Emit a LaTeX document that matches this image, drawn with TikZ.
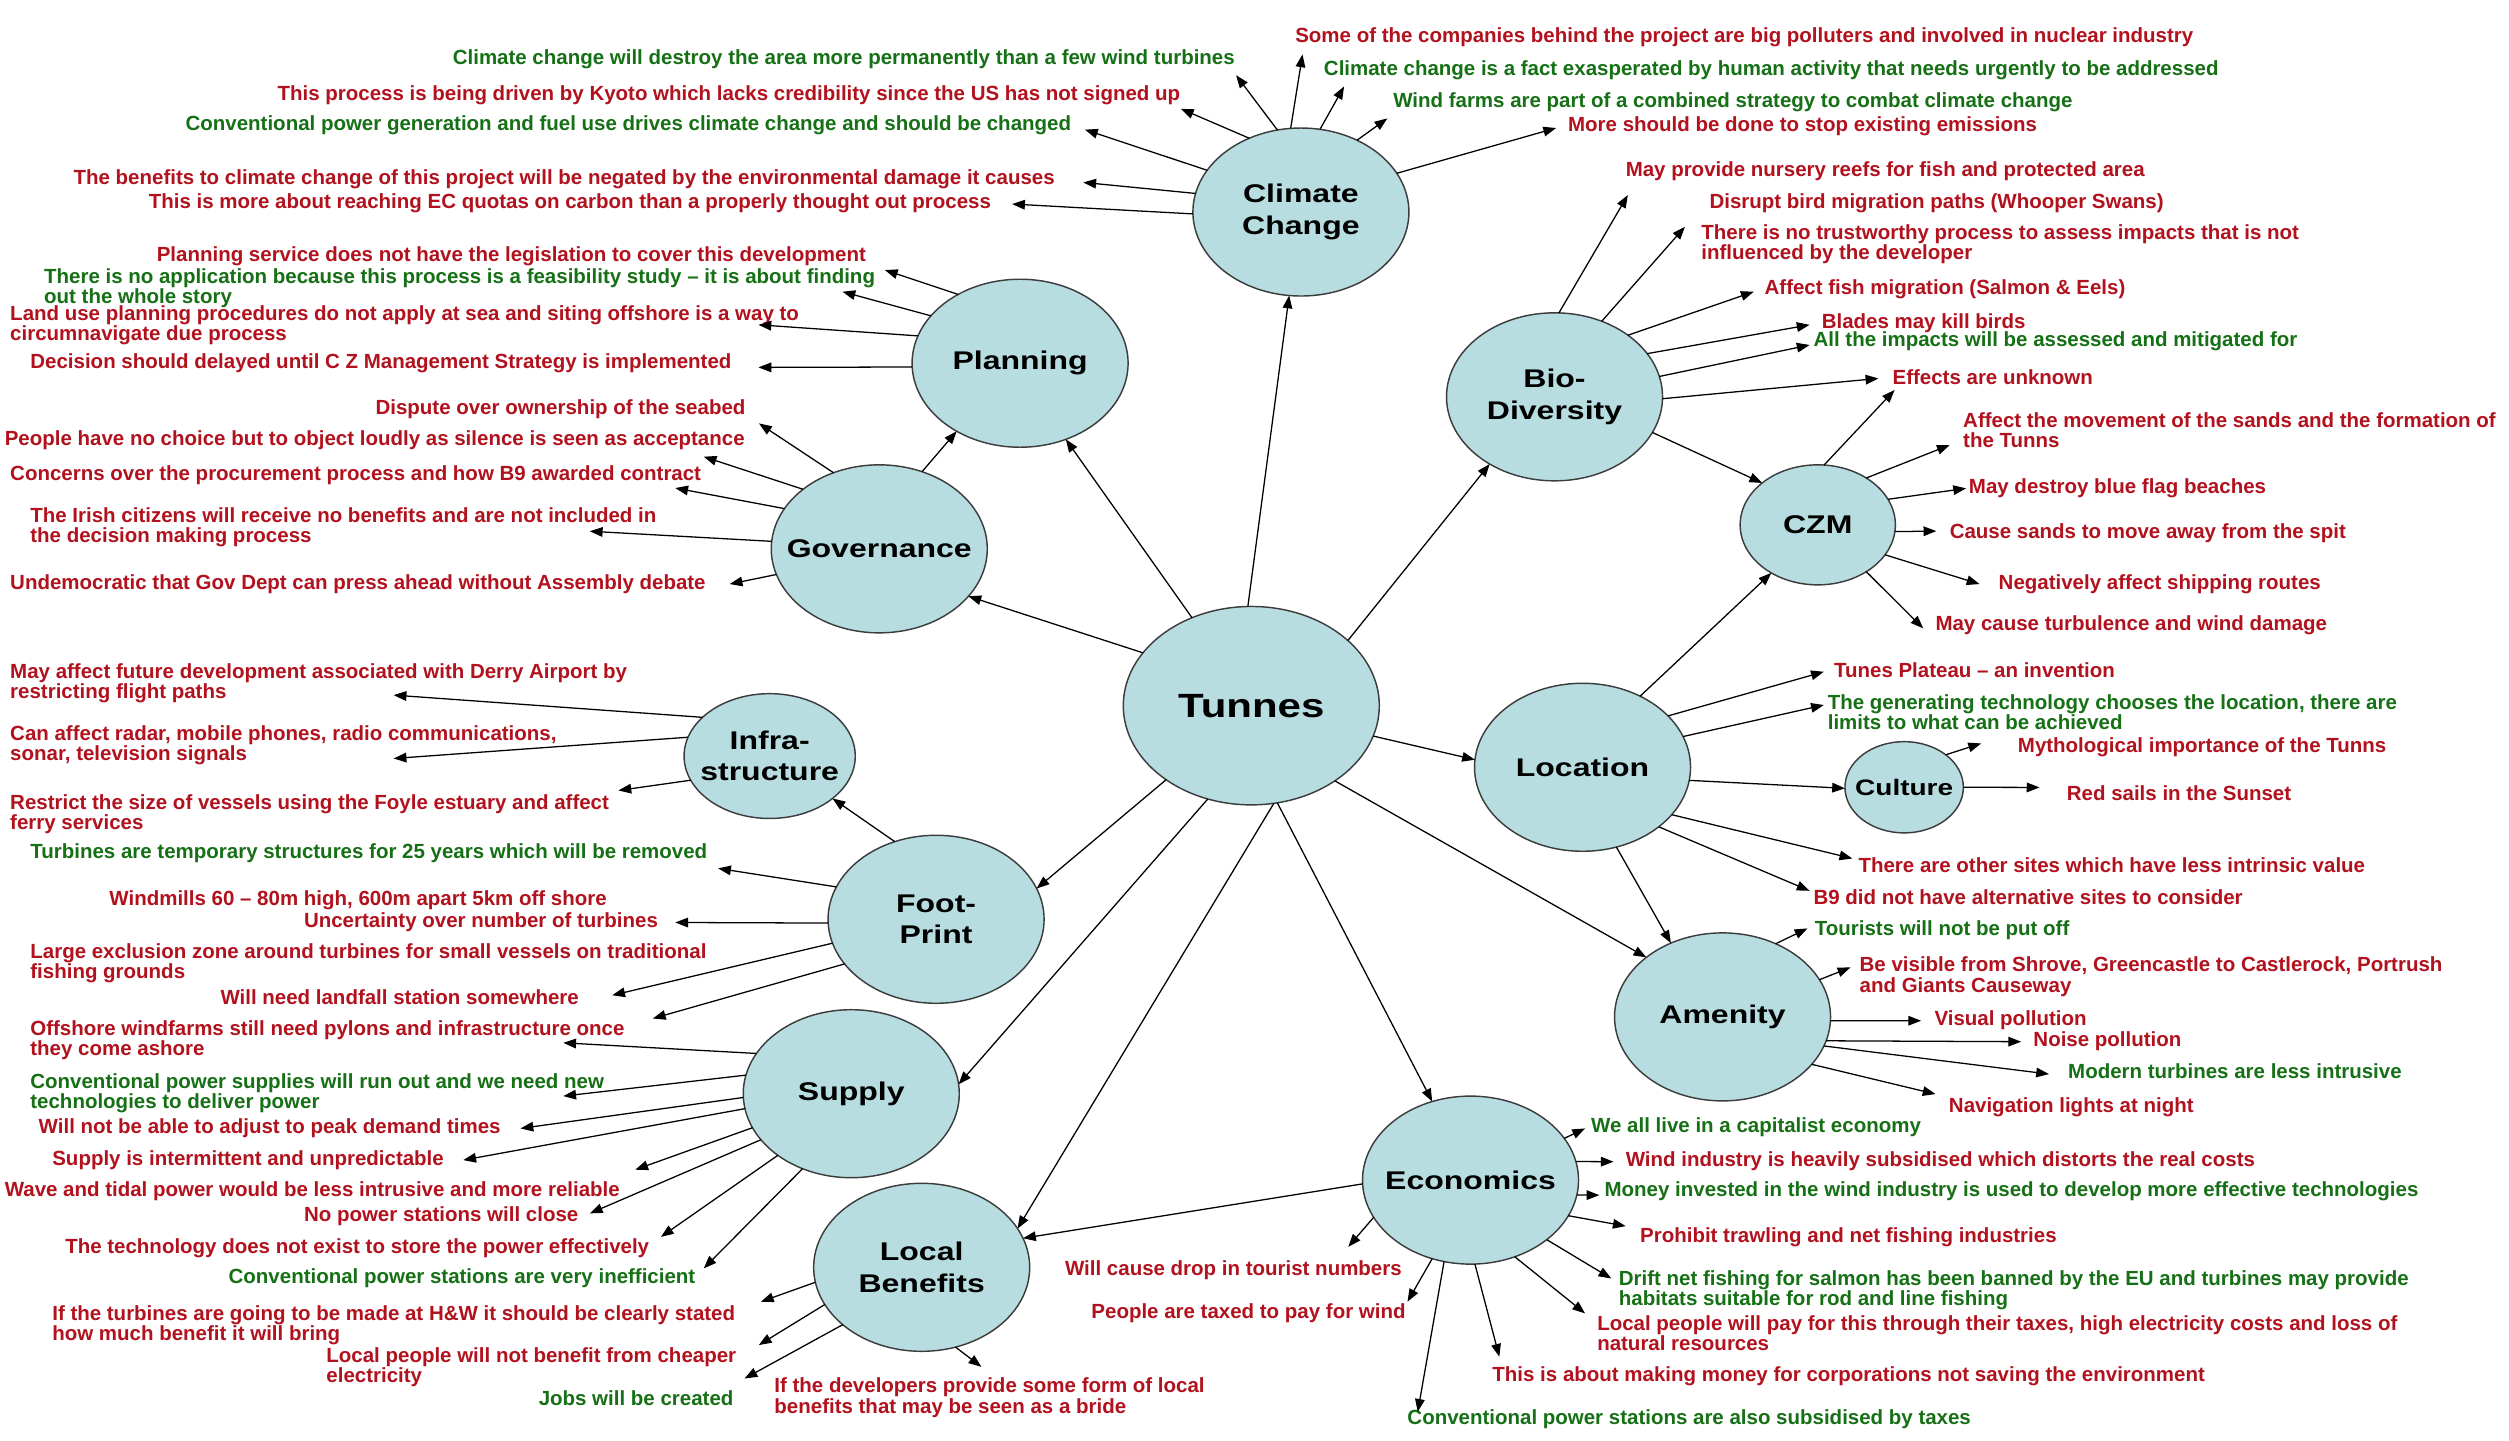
\documentclass[tikz,border=0pt]{standalone}
\usepackage{fontspec}
\setmainfont{Liberation Sans}
\newfontfamily\lblfont{Liberation Sans}[FakeStretch=1.25]
\usetikzlibrary{shapes.geometric,arrows.meta}
\definecolor{tred}{RGB}{178,18,30}
\definecolor{tgreen}{RGB}{22,112,22}
\definecolor{cfill}{RGB}{183,221,225}
\definecolor{cline}{RGB}{60,60,60}
\tikzset{
  hub/.style={ellipse, draw=cline, line width=0.9pt, fill=cfill, inner sep=0pt, outer sep=0pt},
  bighub/.style={hub, minimum width=135pt, minimum height=105pt},
  lbl/.style={inner sep=0pt, align=center, font=\lblfont\bfseries\fontsize{16}{19.5}\selectfont},
  rtxt/.style={inner sep=0pt, outer sep=0pt, align=left, text=tred, font=\bfseries\fontsize{12.8}{12.6}\selectfont},
  gtxt/.style={rtxt, text=tgreen},
  arr/.style={-{Triangle[length=8pt,width=6pt]}, line width=0.8pt, black},
}
\begin{document}
\begin{tikzpicture}[x=1pt,y=-1pt]
\useasboundingbox (0,0) rectangle (1568,900);
\fill[white] (0,0) rectangle (1568,900);

% ---------------- hubs ----------------
\node[hub, minimum width=160pt, minimum height=124pt] (TU) at (782,441) {};
\node[bighub] (CC) at (813,132.5) {};
\node[bighub] (PL) at (637.5,227) {};
\node[bighub] (GV) at (549.5,343) {};
\node[hub, minimum width=107pt, minimum height=78pt] (INF) at (481,472.5) {};
\node[bighub] (FP) at (585,574.5) {};
\node[bighub] (SU) at (532,683.5) {};
\node[bighub] (LB) at (576,792) {};
\node[bighub] (EC) at (919,737.5) {};
\node[bighub] (AM) at (1076.5,635.5) {};
\node[bighub] (LO) at (989,479.5) {};
\node[hub, minimum width=74pt, minimum height=57pt] (CU) at (1190,492) {};
\node[hub, minimum width=97pt, minimum height=75pt] (CZ) at (1136,328) {};
\node[bighub] (BD) at (971.5,248) {};

\node[lbl, font=\lblfont\bfseries\fontsize{21}{24}\selectfont] (TUl) at (TU) {Tunnes};
\node[lbl] (CCl) at (CC) {Climate\\Change};
\node[lbl] (PLl) at (PL) {Planning};
\node[lbl] (GVl) at (GV) {Governance};
\node[lbl] (INFl) at (INF) {Infra-\\structure};
\node[lbl] (FPl) at (FP) {Foot-\\Print};
\node[lbl] (SUl) at (SU) {Supply};
\node[lbl] (LBl) at (LB) {Local\\Benefits};
\node[lbl] (ECl) at (EC) {Economics};
\node[lbl] (AMl) at (AM) {Amenity};
\node[lbl] (LOl) at (LO) {Location};
\node[lbl, font=\lblfont\bfseries\fontsize{14}{17}\selectfont] (CUl) at (CU) {Culture};
\node[lbl] (CZl) at (CZ) {CZM};
\node[lbl] (BDl) at (BD) {Bio-\\Diversity};

% ---------------- hub to hub ----------------
\draw[arr] (TU.92) -- (CC.262);
\draw[arr] (TU.124) -- (PL.301);
\draw[arr] (TU.154) -- (GV.332);
\draw[arr] (TU.221) -- (FP.17);
\draw[arr] (TU.245) -- (SU.5);
\draw[arr] (TU.283) -- (LB.22);
\draw[arr] (TU.285) -- (EC.116);
\draw[arr] (TU.318) -- (AM.142);
\draw[arr] (TU.346) -- (LO.176);
\draw[arr] (TU.34) -- (BD.226);
\draw[arr] (GV.61) -- (PL.227);
\draw[arr] (FP.118) -- (INF.326);
\draw[arr] (EC.182) -- (LB.16);
\draw[arr] (LO.293) -- (AM.125);
\draw[arr] (LO.353) -- (CU.181);
\draw[arr] (LO.51) -- (CZ.226);
\draw[arr] (BD.340) -- (CZ.143);

% ---------------- Climate Change ----------------
\node[gtxt, anchor=west] (c1) at (283,37) {Climate change will destroy the area more permanently than a few wind turbines};
\node[rtxt, anchor=west] (c2) at (173.5,59.4) {This process is being driven by Kyoto which lacks credibility since the US has not signed up};
\node[gtxt, anchor=west] (c3) at (116,78) {Conventional power generation and fuel use drives climate change and should be changed};
\node[rtxt, anchor=west] (c4) at (46,112) {The benefits to climate change of this project will be negated by the environmental damage it causes};
\node[rtxt, anchor=west] (c5) at (93,127) {This is more about reaching EC quotas on carbon than a properly thought out process};
\node[rtxt, anchor=west] (c6) at (809.5,23.3) {Some of the companies behind the project are big polluters and involved in nuclear industry};
\node[gtxt, anchor=west] (c7) at (827.4,43.7) {Climate change is a fact exasperated by human activity that needs urgently to be addressed};
\node[gtxt, anchor=west] (c8) at (870.7,64) {Wind farms are part of a combined strategy to combat climate change};
\node[rtxt, anchor=west] (c9) at (980,79) {More should be done to stop existing emissions};
\coordinate (hc1) at (772.5,47);
\coordinate (hc2) at (738,68);
\coordinate (hc3) at (678,81);
\coordinate (hc4) at (677,114);
\coordinate (hc5) at (632.5,127.5);
\coordinate (hc6) at (814,34);
\coordinate (hc7) at (840,54);
\coordinate (hc8) at (867,74);
\coordinate (hc9) at (972.5,80);
\draw[arr] (CC.106) -- (hc1);
\draw[arr] (CC.125) -- (hc2);
\draw[arr] (CC.156) -- (hc3);
\draw[arr] (CC.170) -- (hc4);
\draw[arr] (CC.181) -- (hc5);
\draw[arr] (CC.97) -- (hc6);
\draw[arr] (CC.77) -- (hc7);
\draw[arr] (CC.52) -- (hc8);
\draw[arr] (CC.22) -- (hc9);

% ---------------- Planning ----------------
\node[rtxt, anchor=west] (p1) at (98,160) {Planning service does not have the legislation to cover this development};
\node[gtxt, anchor=north west] (p2) at (27.6,168) {There is no application because this process is a feasibility study – it is about finding\\out the whole story};
\node[rtxt, anchor=north west] (p3) at (6.4,191) {Land use planning procedures do not apply at sea and siting offshore is a way to\\circumnavigate due process};
\node[rtxt, anchor=west] (p4) at (19,227) {Decision should delayed until C Z Management Strategy is implemented};
\coordinate (hp1) at (553,168.75);
\coordinate (hp2) at (526.5,182.3);
\coordinate (hp3) at (474,203);
\coordinate (hp4) at (474,229.6);
\draw[arr] (PL.132) -- (hp1);
\draw[arr] (PL.152) -- (hp2);
\draw[arr] (PL.165) -- (hp3);
\draw[arr] (PL.182) -- (hp4);

% ---------------- Governance ----------------
\node[rtxt, anchor=west] (g1) at (234.7,256) {Dispute over ownership of the seabed};
\node[rtxt, anchor=west] (g2) at (3,275.4) {People have no choice but to object loudly as silence is seen as acceptance};
\node[rtxt, anchor=west] (g3) at (6.4,297) {Concerns over the procurement process and how B9 awarded contract};
\node[rtxt, anchor=north west] (g4) at (19,317) {The Irish citizens will receive no benefits and are not included in\\the decision making process};
\node[rtxt, anchor=west] (g5) at (6.4,365) {Undemocratic that Gov Dept can press ahead without Assembly debate};
\coordinate (hg1) at (474.3,264.6);
\coordinate (hg2) at (439.8,285.4);
\coordinate (hg3) at (422,305);
\coordinate (hg4) at (368.6,332);
\coordinate (hg5) at (456,365);
\draw[arr] (GV.121) -- (hg1);
\draw[arr] (GV.142) -- (hg2);
\draw[arr] (GV.157) -- (hg3);
\draw[arr] (GV.176) -- (hg4);
\draw[arr] (GV.194) -- (hg5);

% ---------------- Infrastructure ----------------
\node[rtxt, anchor=north west] (i1) at (6.4,414.8) {May affect future development associated with Derry Airport by\\restricting flight paths};
\node[rtxt, anchor=north west] (i2) at (6.4,453.3) {Can affect radar, mobile phones, radio communications,\\sonar, television signals};
\node[rtxt, anchor=north west] (i3) at (6.4,496.5) {Restrict the size of vessels using the Foyle estuary and affect\\ferry services};
\coordinate (hi1) at (246,434.4);
\coordinate (hi2) at (246,474);
\coordinate (hi3) at (386.5,494);
\draw[arr] (INF.150) -- (hi1);
\draw[arr] (INF.167) -- (hi2);
\draw[arr] (INF.197) -- (hi3);

% ---------------- Foot-Print ----------------
\node[gtxt, anchor=west] (f1) at (19,533.3) {Turbines are temporary structures for 25 years which will be removed};
\node[rtxt, anchor=west] (f2) at (68.4,562.5) {Windmills 60 – 80m high, 600m apart 5km off shore};
\node[rtxt, anchor=west] (f3) at (190,576.5) {Uncertainty over number of turbines};
\node[rtxt, anchor=north west] (f4) at (19,589.8) {Large exclusion zone around turbines for small vessels on traditional\\fishing grounds};
\node[rtxt, anchor=west] (f5) at (137.8,623.3) {Will need landfall station somewhere};
\coordinate (hf1) at (448.8,542.7);
\coordinate (hf3) at (422,576.5);
\coordinate (hf5) at (382.6,622);
\coordinate (hf6) at (408,636.5);
\draw[arr] (FP.162) -- (hf1);
\draw[arr] (FP.182) -- (hf3);
\draw[arr] (FP.193) -- (hf5);
\draw[arr] (FP.206) -- (hf6);

% ---------------- Supply ----------------
\node[rtxt, anchor=north west] (s1) at (19,637.7) {Offshore windfarms still need pylons and infrastructure once\\they come ashore};
\node[gtxt, anchor=north west] (s2) at (19,671) {Conventional power supplies will run out and we need new\\technologies to deliver power};
\node[rtxt, anchor=west] (s3) at (24.2,705.2) {Will not be able to adjust to peak demand times};
\node[rtxt, anchor=west] (s4) at (32.7,725) {Supply is intermittent and unpredictable};
\node[rtxt, anchor=west] (s5) at (3,744.2) {Wave and tidal power would be less intrusive and more reliable};
\node[rtxt, anchor=west] (s6) at (190,759.8) {No power stations will close};
\node[rtxt, anchor=west] (s7) at (40.8,779.8) {The technology does not exist to store the power effectively};
\node[gtxt, anchor=west] (s8) at (142.9,799) {Conventional power stations are very inefficient};
\coordinate (hs1) at (352,651.7);
\coordinate (hs2) at (352,685);
\coordinate (hs3) at (325.3,705.2);
\coordinate (hs4) at (289.5,725);
\coordinate (hs5) at (397,731);
\coordinate (hs6) at (368.6,758.3);
\coordinate (hs7) at (413,773);
\coordinate (hs8) at (439.8,792.7);
\draw[arr] (SU.157) -- (hs1);
\draw[arr] (SU.170) -- (hs2);
\draw[arr] (SU.182) -- (hs3);
\draw[arr] (SU.188) -- (hs4);
\draw[arr] (SU.199) -- (hs5);
\draw[arr] (SU.207) -- (hs6);
\draw[arr] (SU.220) -- (hs7);
\draw[arr] (SU.237) -- (hs8);

% ---------------- Local Benefits ----------------
\node[rtxt, anchor=north west] (l1) at (32.7,815.8) {If the turbines are going to be made at H\&W it should be clearly stated\\how much benefit it will bring};
\node[rtxt, anchor=north west] (l2) at (204,841.9) {Local people will not benefit from cheaper\\electricity};
\node[gtxt, anchor=west] (l3) at (336.7,874) {Jobs will be created};
\node[rtxt, anchor=north west] (l4) at (484,861.25) {If the developers provide some form of local\\benefits that may be seen as a bride};
\coordinate (hl1) at (475.5,813.5);
\coordinate (hl2) at (474.2,840.6);
\coordinate (hl3) at (465.3,861.5);
\coordinate (hl4) at (613.3,854.2);
\draw[arr] (LB.188) -- (hl1);
\draw[arr] (LB.201) -- (hl2);
\draw[arr] (LB.216) -- (hl3);
\draw[arr] (LB.293) -- (hl4);

% ---------------- Economics ----------------
\node[gtxt, anchor=west] (e1) at (994.4,704.2) {We all live in a capitalist economy};
\node[rtxt, anchor=west] (e2) at (1016,725.4) {Wind industry is heavily subsidised which distorts the real costs};
\node[gtxt, anchor=west] (e3) at (1002.8,744.2) {Money invested in the wind industry is used to develop more effective technologies};
\node[rtxt, anchor=west] (e4) at (1025,773) {Prohibit trawling and net fishing industries};
\node[gtxt, anchor=north west] (e5) at (1011.7,794) {Drift net fishing for salmon has been banned by the EU and turbines may provide\\habitats suitable for rod and line fishing};
\node[rtxt, anchor=north west] (e6) at (998.2,822) {Local people will pay for this through their taxes, high electricity costs and loss of\\natural resources};
\node[rtxt, anchor=west] (e7) at (932.7,860) {This is about making money for corporations not saving the environment};
\node[gtxt, anchor=west] (e8) at (879.6,887) {Conventional power stations are also subsidised by taxes};
\node[rtxt, anchor=west] (e9) at (665.6,793.75) {Will cause drop in tourist numbers};
\node[rtxt, anchor=west] (e10) at (682.1,820.4) {People are taxed to pay for wind};
\coordinate (he1) at (990.6,705.2);
\coordinate (he2) at (1008.4,726);
\coordinate (he3) at (999.5,746.9);
\coordinate (he4) at (1016,766.25);
\coordinate (he5) at (1007,799);
\coordinate (he6) at (990.6,820.8);
\coordinate (he7) at (937,847.9);
\coordinate (he8) at (886,882.3);
\coordinate (he9) at (842.6,779.2);
\coordinate (he10) at (879.6,813.5);
\draw[arr] (EC.24) -- (he1);
\draw[arr] (EC.10) -- (he2);
\draw[arr] (EC.352) -- (he3);
\draw[arr] (EC.340) -- (he4);
\draw[arr] (EC.322) -- (he5);
\draw[arr] (EC.300) -- (he6);
\draw[arr] (EC.273) -- (he7);
\draw[arr] (EC.252) -- (he8);
\draw[arr] (EC.201) -- (he9);
\draw[arr] (EC.244) -- (he10);

% ---------------- Amenity ----------------
\node[gtxt, anchor=west] (m1) at (1134.2,581.25) {Tourists will not be put off};
\node[rtxt, anchor=north west] (m2) at (1162.2,598.1) {Be visible from Shrove, Greencastle to Castlerock, Portrush\\and Giants Causeway};
\node[rtxt, anchor=west] (m3) at (1209,637.5) {Visual pollution};
\node[rtxt, anchor=west] (m4) at (1270.8,650.4) {Noise pollution};
\node[gtxt, anchor=west] (m5) at (1292.5,669.2) {Modern turbines are less intrusive};
\node[rtxt, anchor=west] (m6) at (1218,691.7) {Navigation lights at night};
\coordinate (hm1) at (1129.6,580.2);
\coordinate (hm2) at (1156.4,604.6);
\coordinate (hm3) at (1200.6,637.9);
\coordinate (hm4) at (1263.1,651);
\coordinate (hm5) at (1280.5,671.25);
\coordinate (hm6) at (1209.6,683.75);
\draw[arr] (AM.54) -- (hm1);
\draw[arr] (AM.21) -- (hm2);
\draw[arr] (AM.358) -- (hm3);
\draw[arr] (AM.347) -- (hm4);
\draw[arr] (AM.344) -- (hm5);
\draw[arr] (AM.332) -- (hm6);

% ---------------- Location ----------------
\node[rtxt, anchor=west] (o1) at (1146.2,418.75) {Tunes Plateau – an invention};
\node[gtxt, anchor=north west] (o2) at (1142.3,434) {The generating technology chooses the location, there are\\limits to what can be achieved};
\node[rtxt, anchor=west] (o3) at (1161.5,540.6) {There are other sites which have less intrinsic value};
\node[rtxt, anchor=west] (o4) at (1133.4,560.4) {B9 did not have alternative sites to consider};
\coordinate (ho1) at (1139.8,419.8);
\coordinate (ho2) at (1139.8,440.6);
\coordinate (ho3) at (1157.6,536.5);
\coordinate (ho4) at (1130.9,556.7);
\draw[arr] (LO.31) -- (ho1);
\draw[arr] (LO.17) -- (ho2);
\draw[arr] (LO.332) -- (ho3);
\draw[arr] (LO.322) -- (ho4);

% ---------------- Culture ----------------
\node[rtxt, anchor=west] (u1) at (1261.1,467.1) {Mythological importance of the Tunns};
\node[rtxt, anchor=west] (u2) at (1291.7,495.4) {Red sails in the Sunset};
\coordinate (hu1) at (1238.1,464.6);
\coordinate (hu2) at (1274.6,492.1);
\draw[arr] (CU.38) -- (hu1);
\draw[arr] (CU.0) -- (hu2);

% ---------------- CZM ----------------
\node[rtxt, anchor=north west] (z1) at (1226.9,257.9) {Affect the movement of the sands and the formation of\\the Tunns};
\node[rtxt, anchor=west] (z2) at (1230.5,305.2) {May destroy blue flag beaches};
\node[rtxt, anchor=west] (z3) at (1218.5,333.3) {Cause sands to move away from the spit};
\node[rtxt, anchor=west] (z4) at (1249.1,365) {Negatively affect shipping routes};
\node[rtxt, anchor=west] (z5) at (1209.6,390.6) {May cause turbulence and wind damage};
\coordinate (hz1) at (1218.5,278.1);
\coordinate (hz2) at (1228.7,305.2);
\coordinate (hz3) at (1210.1,331.9);
\coordinate (hz4) at (1237.1,365);
\coordinate (hz5) at (1201.9,392.7);
\coordinate (hz6) at (1184,243.75);
\draw[arr] (CZ.44) -- (hz1);
\draw[arr] (CZ.20) -- (hz2);
\draw[arr] (CZ.355) -- (hz3);
\draw[arr] (CZ.336) -- (hz4);
\draw[arr] (CZ.316) -- (hz5);
\draw[arr] (CZ.84) -- (hz6);

% ---------------- Bio-Diversity ----------------
\node[rtxt, anchor=west] (b1) at (1016,106.7) {May provide nursery reefs for fish and protected area};
\node[rtxt, anchor=west] (b2) at (1068.4,127) {Disrupt bird migration paths (Whooper Swans)};
\node[rtxt, anchor=north west] (b3) at (1063.3,140.2) {There is no trustworthy process to assess impacts that is not\\influenced by the developer};
\node[rtxt, anchor=west] (b4) at (1102.8,180.8) {Affect fish migration (Salmon \& Eels)};
\node[rtxt, anchor=west] (b5) at (1138.5,201.7) {Blades may kill birds};
\node[gtxt, anchor=west] (b6) at (1133.4,213.5) {All the impacts will be assessed and mitigated for};
\node[rtxt, anchor=west] (b7) at (1182.8,235.8) {Effects are unknown};
\coordinate (hb1) at (1017.3,121.9);
\coordinate (hb2) at (1053,141.7);
\coordinate (hb4) at (1096,182.3);
\coordinate (hb5) at (1130.9,203);
\coordinate (hb6) at (1130.9,215.6);
\coordinate (hb7) at (1173.9,236.5);
\draw[arr] (BD.87) -- (hb1);
\draw[arr] (BD.58) -- (hb2);
\draw[arr] (BD.40) -- (hb4);
\draw[arr] (BD.25) -- (hb5);
\draw[arr] (BD.11) -- (hb6);
\draw[arr] (BD.359) -- (hb7);
\end{tikzpicture}
\end{document}
